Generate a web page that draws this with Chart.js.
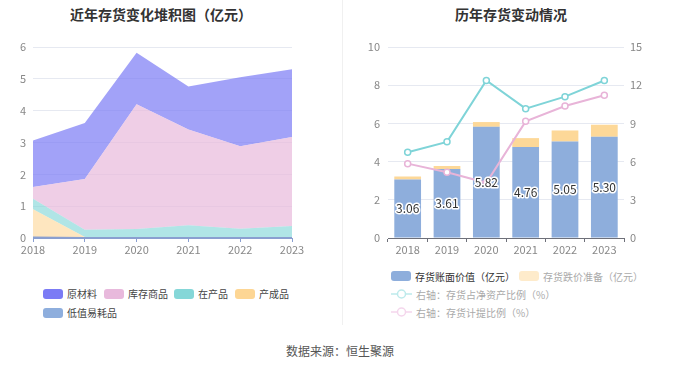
<!DOCTYPE html>
<html>
<head>
<meta charset="utf-8">
<script src="https://cdn.jsdelivr.net/npm/chart.js@4/dist/chart.umd.min.js"></script>
<style>
  body { margin: 0; width: 680px; height: 367px; background: #fff; position: relative; overflow: hidden;
         font-family: "Noto Sans CJK SC", sans-serif; }
  .title { position: absolute; top: 0; height: 28px; line-height: 28px; font-size: 14px; font-weight: bold; color: #333; text-align: center; }
  .divider { position: absolute; left: 342px; top: 0; width: 1px; height: 325px; background: #f0f0f0; }
  .box { position: absolute; }
  .legend { position: absolute; font-size: 10px; color: #444; }
  .row { display: flex; align-items: center; height: 19px; white-space: nowrap; }
  .item { display: flex; align-items: center; margin-right: 7px; }
  .sw { width: 20px; height: 10px; border-radius: 3px; margin-right: 4px; }
  .item svg { margin-right: 4px; }
  .footer { position: absolute; left: 0; width: 680px; top: 342px; text-align: center; font-size: 12px; color: #555; }
</style>
</head>
<body>
<div class="title" style="left:0;width:322px">近年存货变化堆积图（亿元）</div>
<div class="title" style="left:342px;width:338px">历年存货变动情况</div>
<div class="divider"></div>

<div class="box" style="left:0;top:30px;width:340px;height:230px"><canvas id="stack"></canvas></div>
<div class="box" style="left:342px;top:30px;width:338px;height:230px"><canvas id="inv"></canvas></div>

<div class="legend" style="left:43px;top:284px">
  <div class="row">
    <div class="item"><span class="sw" style="background:#7b7bf5"></span>原材料</div>
    <div class="item" style="margin-right:6px"><span class="sw" style="background:#e8b9dc"></span>库存商品</div>
    <div class="item"><span class="sw" style="background:#85d7d8"></span>在产品</div>
    <div class="item"><span class="sw" style="background:#fdd694"></span>产成品</div>
  </div>
  <div class="row">
    <div class="item"><span class="sw" style="background:#8eaedd"></span>低值易耗品</div>
  </div>
</div>

<div class="legend" style="left:391px;top:267px">
  <div class="row" style="height:18px">
    <div class="item" style="margin-right:4px;color:#333"><span class="sw" style="background:#8eaedc"></span>存货账面价值（亿元）</div>
    <div class="item" style="color:#aaa"><span class="sw" style="background:#feebcb"></span>存货跌价准备（亿元）</div>
  </div>
  <div class="row" style="height:18px;color:#aaa">
    <div class="item"><svg width="21" height="10"><line x1="0" y1="5" x2="21" y2="5" stroke="#bdeaeb" stroke-width="1.5"/><circle cx="10.5" cy="5" r="4" fill="#fff" stroke="#bdeaeb" stroke-width="1.5"/></svg>右轴：存货占净资产比例（%）</div>
  </div>
  <div class="row" style="height:18px;color:#aaa">
    <div class="item"><svg width="21" height="10"><line x1="0" y1="5" x2="21" y2="5" stroke="#f4d6ec" stroke-width="1.5"/><circle cx="10.5" cy="5" r="4" fill="#fff" stroke="#f4d6ec" stroke-width="1.5"/></svg>右轴：存货计提比例（%）</div>
  </div>
</div>

<div class="footer">数据来源：恒生聚源</div>

<script>
const years = ['2018', '2019', '2020', '2021', '2022', '2023'];

// 堆积图（亿元）
const rawMaterial = [1.46, 1.76, 1.62, 1.35, 2.17, 2.13];
const goods = [0.37, 1.59, 3.92, 3.01, 2.59, 2.79];
const wip = [0.33, 0.23, 0.27, 0.39, 0.28, 0.37];
const finished = [0.88, 0.02, 0, 0, 0, 0];
const lowValue = [0.02, 0.01, 0.01, 0.01, 0.01, 0.01];

// 存货变动
const bookValue = [3.06, 3.61, 5.82, 4.76, 5.05, 5.30];
const provision = [0.16, 0.16, 0.25, 0.47, 0.58, 0.63];
const ratioNetAssets = [6.74, 7.55, 12.37, 10.16, 11.10, 12.37];
const ratioProvision = [5.84, 5.16, 4.34, 9.16, 10.37, 11.21];

const tickFont = { family: '"Noto Sans CJK SC", sans-serif', size: 11 };
const tickColor = '#888';
const gridColor = '#e6e9f1';

Chart.defaults.animation = false;
Chart.defaults.font.family = '"Noto Sans CJK SC", sans-serif';

const area = (label, data, color, fill) => ({
    label, data, fill,
    backgroundColor: color,
    borderWidth: 0,
    pointRadius: 0,
    tension: 0
});

new Chart(document.getElementById('stack'), {
    type: 'line',
    data: {
        labels: years,
        datasets: [
            { ...area('低值易耗品', lowValue, 'rgba(142,174,221,0.7)', 'origin'), borderWidth: 1.5, borderColor: '#8a9fd0' },
            area('产成品', finished, 'rgba(253,214,148,0.6)', '-1'),
            area('在产品', wip, 'rgba(133,215,216,0.65)', '-1'),
            area('库存商品', goods, 'rgba(232,185,220,0.7)', '-1'),
            area('原材料', rawMaterial, 'rgba(123,123,245,0.7)', '-1')
        ]
    },
    options: {
        responsive: true,
        maintainAspectRatio: false,
        layout: { padding: { top: 17, right: 48, bottom: 0, left: 0 } },
        plugins: { legend: { display: false }, tooltip: { enabled: false } },
        scales: {
            x: {
                offset: false,
                grid: { display: true, drawOnChartArea: false, tickLength: 4, color: '#8a9fd0' },
                border: { color: '#8a9fd0' },
                ticks: { font: tickFont, color: tickColor, padding: 1, maxRotation: 0 },
                afterFit: s => { s.height = 22; }
            },
            y: {
                stacked: true,
                min: 0, max: 6,
                ticks: { stepSize: 1, font: tickFont, color: tickColor, padding: 7 },
                grid: { color: gridColor, drawTicks: false },
                border: { display: false },
                afterFit: s => { s.width = 33; }
            }
        }
    }
});

const barLabels = {
    id: 'barLabels',
    afterDatasetsDraw(chart) {
        const meta = chart.getDatasetMeta(2);
        const ctx = chart.ctx;
        ctx.save();
        ctx.font = '12px "Noto Sans CJK SC", sans-serif';
        ctx.textAlign = 'center';
        ctx.textBaseline = 'middle';
        ctx.lineWidth = 3;
        ctx.lineJoin = 'round';
        ctx.strokeStyle = '#fff';
        ctx.fillStyle = '#333';
        meta.data.forEach((bar, i) => {
            const y = (bar.y + bar.base) / 2;
            const t = bookValue[i].toFixed(2);
            ctx.strokeText(t, bar.x, y);
            ctx.fillText(t, bar.x, y);
        });
        ctx.restore();
    }
};

new Chart(document.getElementById('inv'), {
    type: 'bar',
    data: {
        labels: years,
        datasets: [
            {
                type: 'line', label: '右轴：存货占净资产比例（%）', data: ratioNetAssets, yAxisID: 'y1', order: 0,
                borderColor: '#7fd4d8', borderWidth: 2, backgroundColor: '#fff',
                pointRadius: 3, pointBorderWidth: 1.5, pointBorderColor: '#7fd4d8', tension: 0
            },
            {
                type: 'line', label: '右轴：存货计提比例（%）', data: ratioProvision, yAxisID: 'y1', order: 0,
                borderColor: '#e8b4d8', borderWidth: 2, backgroundColor: '#fff',
                pointRadius: 3, pointBorderWidth: 1.5, pointBorderColor: '#e8b4d8', tension: 0
            },
            {
                label: '存货账面价值（亿元）', data: bookValue, stack: 's', order: 1,
                backgroundColor: '#8eaedc', barPercentage: 0.68, categoryPercentage: 1
            },
            {
                label: '存货跌价准备（亿元）', data: provision, stack: 's', order: 1,
                backgroundColor: '#fdd898', barPercentage: 0.68, categoryPercentage: 1
            }
        ]
    },
    options: {
        responsive: true,
        maintainAspectRatio: false,
        layout: { padding: { top: 17, right: 0, bottom: 0, left: 0 } },
        plugins: { legend: { display: false }, tooltip: { enabled: false } },
        scales: {
            x: {
                stacked: true,
                grid: { display: true, drawOnChartArea: false, tickLength: 4, color: '#6e7079' },
                border: { color: '#6e7079' },
                ticks: { font: tickFont, color: tickColor, padding: 1 },
                afterFit: s => { s.height = 22; }
            },
            y: {
                stacked: true,
                min: 0, max: 10,
                ticks: { stepSize: 2, font: tickFont, color: tickColor, padding: 8 },
                grid: { color: gridColor, drawTicks: false },
                border: { display: false },
                afterFit: s => { s.width = 46; }
            },
            y1: {
                position: 'right',
                min: 0, max: 15,
                ticks: { stepSize: 3, font: tickFont, color: tickColor, padding: 6 },
                grid: { drawOnChartArea: false, drawTicks: false },
                border: { display: false },
                afterFit: s => { s.width = 56; }
            }
        }
    },
    plugins: [barLabels]
});
</script>
</body>
</html>
